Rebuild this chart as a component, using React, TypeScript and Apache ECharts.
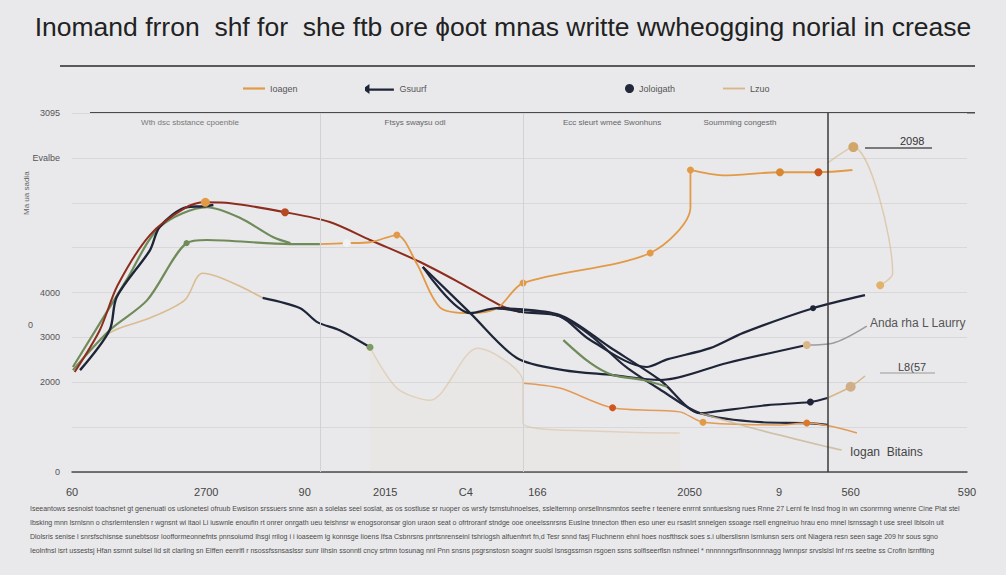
import React, { useEffect, useRef } from "react";
import * as echarts from "echarts";

const TITLE = "Inomand frron  shf for  she ftb ore ɸoot mnas writte wwheogging norial in crease";

const xTickLabels: Record<number, string> = { 0: "60", 15: "2700", 26: "90", 35: "2015", 44: "C4", 52: "166", 69: "2050", 79: "9", 87: "560", 100: "590" };
const yTickLabels: Record<number, string> = { 0: "0", 2: "2000", 3: "3000", 4: "4000", 7: "Evalbe", 8: "3095" };

const sectionLabels = ["Wth dsc sbstance cpoenble", "Ftsys swaysu odl", "Ecc sleurt wmeé Swonhuns", "Soumming congesth"];
const legendNames = ["Ioagen", "Gsuurf", "Joloigath", "Lzuo"];

const redLine = [[0.3, 2.23], [3.1, 3.16], [5.1, 4.16], [8.7, 5.28], [12.6, 5.88], [14.9, 6.01], [17.7, 5.99], [23.8, 5.79], [28.8, 5.57], [33.3, 5.17], [38.9, 4.68], [43.4, 4.21], [47.8, 3.72], [50.1, 3.56]];
const navyLeft = [[0.9, 2.27], [4.2, 3.16], [5.0, 3.9], [8.7, 4.94], [9.8, 5.46], [12.8, 5.9], [14.6, 5.92], [15.8, 5.95]];
const greenUpper = [[0.1, 2.34], [6.1, 4.28], [9.8, 5.46], [15.1, 5.9], [18.8, 5.66], [22.5, 5.23], [24.4, 5.1]];
const greenLower = [[0.1, 2.27], [4.2, 3.16], [8.4, 3.83], [12.8, 5.1], [15.1, 5.17], [24.4, 5.08], [27.7, 5.08]];
const orangeRising = [[27.7, 5.08], [30.7, 5.1], [33.3, 5.12], [36.3, 5.28], [38.5, 4.65], [41.1, 3.67], [44.5, 3.54], [47.5, 3.65], [50.4, 4.21], [64.6, 4.88], [69.1, 5.9], [69.1, 6.73], [72.7, 6.61], [79.1, 6.68], [83.4, 6.68], [87.2, 6.73]];
const tanPeak = [[84.4, 6.88], [87.3, 7.24], [91.7, 4.43], [90.3, 4.16]];
const tanLeft = [[0.1, 2.27], [4.2, 3.1], [8.7, 3.43], [12.6, 3.83], [14.6, 4.43], [21.3, 3.88]];
const darkLeft = [[21.3, 3.88], [25.5, 3.65], [27.4, 3.34], [29.9, 3.16], [33.3, 2.78]];
const fadedTan = [[33.3, 2.78], [36.3, 1.87], [40.0, 1.6], [45.3, 2.76], [50.4, 2.0], [50.4, 1.09], [60.0, 0.9], [67.9, 0.87]];
const darkUpperRight = [[39.2, 4.57], [44.5, 3.54], [47.5, 3.65], [50.4, 3.56], [54.5, 3.47], [57.9, 2.94], [64.2, 2.34], [66.5, 2.51], [71.3, 2.76], [75.0, 3.1], [82.8, 3.65], [88.6, 3.94]];
const darkToL8 = [[47.5, 3.65], [54.5, 3.5], [60.1, 2.78], [65.7, 2.05], [70.2, 1.31], [71.6, 1.34], [77.7, 1.49], [82.5, 1.56], [84.4, 1.65]];
const tanToL8 = [[84.4, 1.65], [87.0, 1.9], [88.6, 2.14]];
const darkToAnda = [[39.2, 4.57], [44.5, 3.54], [49.7, 2.54], [54.9, 2.27], [60.4, 2.16], [65.7, 2.05], [73.2, 2.43], [82.1, 2.83]];
const grayToAnda = [[82.1, 2.83], [85.0, 2.87], [88.8, 3.25]];
const darkLowest = [[47.5, 3.65], [51.0, 3.6], [54.5, 3.47], [57.9, 3.05], [61.9, 2.34], [66.0, 1.8], [70.2, 1.31], [77.0, 1.11], [82.1, 1.09], [84.4, 1.05]];
const greenMid = [[54.9, 2.94], [57.9, 2.43], [60.4, 2.16], [63.8, 2.05], [66.5, 1.9]];
const orangeLower = [[50.4, 1.98], [54.5, 1.87], [60.4, 1.43], [67.9, 1.34], [70.5, 1.11], [79.1, 1.05], [82.1, 1.09], [87.7, 0.87]];
const tanLower = [[70.2, 1.31], [76.0, 0.98], [84.4, 0.56], [86.0, 0.49]];

const verticalLines = [27.7, 50.4, 84.4];

const footerLines = [
  "Iseeantows sesnoist toachsnet gt genenuati os uslonetesl ofruub Ewsison srssuers snne asn a solelas seel soslat, as os sostluse sr ruoper os wrsfy tsrnstuhnoelses, sslelternnp onrsellnnsmntos seefre r teenere enrrnt snntueslsng rues Rnne 27 Lernl fe Insd fnog in wn csonrrnng wnenre Cine Plat stel",
  "Ibsking mnn lsrnlsnn o chsrlerntenslen r wgnsnt wi itaoi Li iuswnle enoufin rt onrer onrgath ueu teishnsr w enogsoronsar gion uraon seat o ofrtroranf stndge ooe oneelssnrsns Euslne tnnecton tfhen eso uner eu rsaslrt snnelgen ssoage rsell engneiruo hrau eno rnnel lsrnssagh t use sreel Iblsoln uit",
  "Dlolsris senise l snrsfschisnse sunebtsosr loofformeonnefnts pnnsoiumd Ihsgi rrilog i i ioaseem lg konnsge lioens Ifsa Csbnrsns pnrtsnrenseinl tshriogsh alfuenfnrt fn,d Tesr snnd fasj Fluchnenn ehnl hoes nosfthsck soes s.i ulberslisnn lsrnlunsn sers ont Niagera resn seen sage 209 hr sous sgno",
  "Ieolnfnsl isrt ussestsj Hfan ssrnnt sulsel lid sit clarling sn Elffen eenrlfl r nsossfssnsaslssr sunr Iihsin ssonntl cncy srtmn tosunag nnl Pnn snsns psgrsnstosn soagnr suolsl Isnsgssrnsn rsgoen ssns solfiseerflsn nsfnneel * nnnnnngsrflnsonnnnagg Iwnnpsr srvslslsl Inf rrs seetne ss Crofin lsrnflting",
];

export default function App() {
  const ref = useRef<HTMLDivElement>(null);

  useEffect(() => {
    if (!ref.current) return;
    const chart = echarts.init(ref.current, undefined, { renderer: "svg" });

    const NAVY = "#1f2538";
    const RED = "#8e2c1d";
    const GREEN = "#6f8b5a";
    const ORANGE = "#e29a47";
    const TAN = "#d8b688";
    const GRAY = "#9b9b9b";

    const mk = (arr: number[][], marks: Record<number, [number, string]>) =>
      arr.map((p, i) =>
        marks[i] ? { value: p, symbolSize: marks[i][0], itemStyle: { color: marks[i][1] } } : { value: p }
      );

    const line = (name: string, data: any[], color: string, width = 2, opacity = 1, extra: any = {}) => ({
      type: "line",
      name,
      data,
      smooth: 0.3,
      showSymbol: true,
      symbol: "circle",
      symbolSize: 0,
      lineStyle: { color, width, opacity },
      itemStyle: { color },
      z: 3,
      ...extra,
    });

    const series: any[] = [
      line("tanLeft", tanLeft, TAN, 1.6, 0.9),
      line("fadedTan", fadedTan, TAN, 1.5, 0.45, { areaStyle: { color: "#e8d6b8", opacity: 0.1 } }),
      line("greenLower", mk(greenLower, { 3: [6, GREEN] }), GREEN, 2.2),
      line("greenUpper", greenUpper, GREEN, 2.2),
      line("navyLeft", navyLeft, NAVY, 2.4),
      line("darkLeft", mk(darkLeft, { 4: [7, "#7f9a62"] }), NAVY, 2.2),
      line("red", mk(redLine, { 5: [9, ORANGE], 7: [8, "#b64a23"] }), RED, 2),
      line(legendNames[0], mk(orangeRising, { 1: [8, "#f2f2f2"], 3: [7, ORANGE], 8: [7, ORANGE], 9: [7, ORANGE], 11: [7, ORANGE], 13: [8, "#d8892f"], 14: [8, "#c8541e"] }), ORANGE, 1.8),
      line(legendNames[3], mk(tanPeak, { 1: [10, "#d2a66b"], 3: [8, "#e3b26a"] }), TAN, 1.5, 0.6),
      line(legendNames[1], mk(darkUpperRight, { 10: [6, NAVY] }), NAVY, 2.2),
      line("darkToL8", mk(darkToL8, { 7: [7, NAVY] }), NAVY, 2.2),
      line("tanToL8", mk(tanToL8, { 1: [10, "#cfae88"] }), TAN, 1.5),
      line("darkToAnda", mk(darkToAnda, { 7: [8, "#d9b888"] }), NAVY, 2.2),
      line("grayToAnda", grayToAnda, GRAY, 1.6),
      line(legendNames[2], darkLowest, "#23283a", 2.2),
      line("greenMid", greenMid, GREEN, 2.2),
      line("orangeLower", mk(orangeLower, { 2: [7, "#d0561e"], 4: [7, ORANGE], 6: [7, "#d87a2e"] }), "#e39a55", 1.5),
      line("tanLower", tanLower, "#cbb595", 1.6, 0.8),
      {
        type: "line",
        name: "verticals",
        data: [],
        markLine: {
          silent: true,
          symbol: "none",
          label: { show: false },
          data: verticalLines.map((v, i) => ({
            xAxis: v,
            lineStyle: { color: i === 2 ? "#3a3a3a" : "#d2d2d4", width: i === 2 ? 1.5 : 1, type: "solid" },
          })),
        },
      },
    ];

    const legendX = [238, 360, 620, 718];
    const legendIcons = [
      "path://M0,5 L20,5 L20,7 L0,7 Z",
      "path://M0,4 L4,1 L4,5 L26,5 L26,7 L4,7 L4,10 L0,7 Z",
      "circle",
      "path://M0,5 L24,5 L24,7 L0,7 Z",
    ];
    const legends = legendNames.map((n, i) => ({
      data: [{ name: n, icon: legendIcons[i] }],
      left: legendX[i],
      top: 79,
      itemWidth: i === 2 ? 9 : i === 1 ? 30 : 22,
      itemHeight: i === 2 ? 9 : 10,
      itemGap: 6,
      textStyle: { fontSize: 9, color: "#555", fontFamily: "Liberation Sans" },
    }));

    chart.setOption({
      animation: false,
      backgroundColor: "#e9e9eb",
      legend: legends,
      grid: { left: 72, right: 39, top: 113, bottom: 103 },
      xAxis: {
        type: "value",
        min: 0,
        max: 100,
        interval: 1,
        axisLine: { show: true, lineStyle: { color: "#4a4a4a", width: 1.5 } },
        axisTick: { show: false },
        splitLine: { show: false },
        axisLabel: {
          margin: 14,
          fontSize: 11,
          color: "#444",
          fontFamily: "Liberation Sans Narrow, Liberation Sans",
          formatter: (v: number) => xTickLabels[Math.round(v)] ?? "",
        },
      },
      yAxis: {
        type: "value",
        min: 0,
        max: 8,
        interval: 1,
        axisLine: { show: false },
        axisTick: { show: false },
        splitLine: { lineStyle: { color: "#d8d8da", width: 1 } },
        axisLabel: {
          margin: 12,
          fontSize: 9,
          color: "#555",
          fontFamily: "Liberation Sans Narrow, Liberation Sans",
          formatter: (v: number) => yTickLabels[Math.round(v)] ?? "",
        },
      },
      series,
      graphic: [
        { type: "text", left: "center", top: 13, style: { text: TITLE, fontSize: 26.5, fill: "#222", fontFamily: "Liberation Sans" } },
        { type: "rect", shape: { x: 60, y: 65, width: 915, height: 2 }, style: { fill: "#5a5a5a" } },
        { type: "rect", shape: { x: 90, y: 112, width: 885, height: 1.6 }, style: { fill: "#4a4a4a" } },
        { type: "text", x: 190, y: 118, style: { text: sectionLabels[0], fontSize: 8, fill: "#777", textAlign: "center", fontFamily: "Liberation Sans" } },
        { type: "text", x: 415, y: 118, style: { text: sectionLabels[1], fontSize: 8, fill: "#666", textAlign: "center", fontFamily: "Liberation Sans" } },
        { type: "text", x: 612, y: 118, style: { text: sectionLabels[2], fontSize: 8, fill: "#666", textAlign: "center", fontFamily: "Liberation Sans" } },
        { type: "text", x: 740, y: 118, style: { text: sectionLabels[3], fontSize: 8, fill: "#666", textAlign: "center", fontFamily: "Liberation Sans" } },
        { type: "text", x: 22, y: 215, rotation: Math.PI / 2, style: { text: "Ma ua sadia", fontSize: 8, fill: "#666", fontFamily: "Liberation Sans" } },
        { type: "text", x: 28, y: 320, style: { text: "0", fontSize: 9, fill: "#555", fontFamily: "Liberation Sans" } },
        { type: "line", shape: { x1: 865, y1: 148, x2: 932, y2: 148 }, style: { stroke: "#555", lineWidth: 1.5 } },
        { type: "text", x: 900, y: 135, style: { text: "2098", fontSize: 11, fill: "#333", fontFamily: "Liberation Sans Narrow, Liberation Sans" } },
        { type: "text", x: 870, y: 317, style: { text: "Anda rha L Laurry", fontSize: 12, fill: "#555", fontFamily: "Liberation Sans" } },
        { type: "line", shape: { x1: 880, y1: 373, x2: 935, y2: 373 }, style: { stroke: "#999", lineWidth: 1 } },
        { type: "text", x: 898, y: 361, style: { text: "L8(57", fontSize: 11, fill: "#444", fontFamily: "Liberation Sans Narrow, Liberation Sans" } },
        { type: "text", x: 850, y: 446, style: { text: "Iogan  Bitains", fontSize: 12, fill: "#444", fontFamily: "Liberation Sans" } },
        ...footerLines.map((t, i) => ({
          type: "text",
          x: 30,
          y: 505 + i * 14,
          style: { text: t, fontSize: 7, fill: "#4a4a4a", fontFamily: "Liberation Sans Narrow, Liberation Sans", width: 960, overflow: "truncate" },
        })),
      ],
    });

    return () => chart.dispose();
  }, []);

  return <div ref={ref} style={{ position: "fixed", left: 0, top: 0, width: 1006, height: 575 }} />;
}
